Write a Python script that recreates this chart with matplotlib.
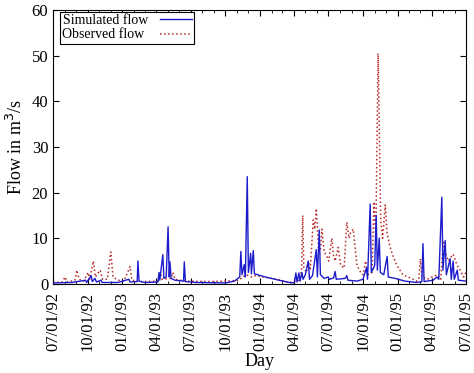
import numpy as np
import pandas as pd
import matplotlib
matplotlib.use('Agg')
import matplotlib.pyplot as plt
import matplotlib.dates as mdates

plt.rcParams['font.family'] = ['Liberation Serif', 'DejaVu Serif']

# simulated flow (m3/s)
sim_dates = ['1992-07-01', '1992-08-20', '1992-09-25', '1992-09-28', '1992-10-10', '1992-10-13',
             '1992-10-20', '1992-10-24', '1992-11-05', '1992-11-08', '1992-12-20', '1993-01-18',
             '1993-01-21', '1993-02-09', '1993-02-11', '1993-02-14', '1993-03-01', '1993-04-05',
             '1993-04-08', '1993-04-10', '1993-04-18', '1993-04-21', '1993-04-27', '1993-05-02',
             '1993-05-05', '1993-05-07', '1993-05-10', '1993-05-20', '1993-06-12', '1993-06-14',
             '1993-06-17', '1993-07-15', '1993-10-01', '1993-10-25', '1993-11-08', '1993-11-11',
             '1993-11-14', '1993-11-20', '1993-11-23', '1993-11-28', '1993-12-01', '1993-12-07',
             '1993-12-09', '1993-12-14', '1993-12-17', '1994-01-15', '1994-02-20', '1994-03-25',
             '1994-04-02', '1994-04-06', '1994-04-09', '1994-04-14', '1994-04-17', '1994-04-22',
             '1994-04-25', '1994-05-01', '1994-05-09', '1994-05-12', '1994-05-20', '1994-05-30',
             '1994-06-02', '1994-06-07', '1994-06-10', '1994-06-20', '1994-07-01', '1994-07-04',
             '1994-07-15', '1994-07-19', '1994-07-22', '1994-08-15', '1994-08-19', '1994-08-22',
             '1994-09-15', '1994-10-01', '1994-10-10', '1994-10-13', '1994-10-20', '1994-10-23',
             '1994-11-01', '1994-11-05', '1994-11-08', '1994-11-13', '1994-11-16', '1994-11-25',
             '1994-12-04', '1994-12-07', '1994-12-25', '1995-01-20', '1995-02-20', '1995-03-06',
             '1995-03-09', '1995-03-12', '1995-04-05', '1995-04-15', '1995-04-20', '1995-04-28',
             '1995-05-01', '1995-05-07', '1995-05-10', '1995-05-20', '1995-05-23', '1995-05-28',
             '1995-05-31', '1995-06-08', '1995-06-11', '1995-07-01']
sim_vals = [0.2, 0.3, 0.8, 0.3, 1.8, 0.5,
            1.2, 0.4, 0.8, 0.3, 0.3, 1.0,
            0.4, 0.5, 5.0, 0.6, 0.3, 0.4,
            2.5, 0.8, 6.4, 1.2, 1.5, 12.5,
            1.5, 4.8, 1.2, 0.8, 0.6, 4.8,
            0.5, 0.3, 0.2, 0.6, 1.5, 7.1,
            2.0, 4.2, 1.5, 23.5, 2.5, 6.7,
            2.2, 7.3, 2.2, 1.5, 0.8, 0.2,
            0.3, 2.4, 0.4, 2.4, 0.6, 2.5,
            1.0, 2.0, 5.0, 1.0, 1.8, 7.5,
            1.5, 11.8, 2.0, 1.2, 1.5, 1.0,
            1.3, 2.7, 1.0, 1.2, 1.8, 0.8,
            0.6, 1.0, 3.5, 1.0, 17.5, 2.5,
            4.0, 15.0, 3.0, 10.0, 2.5, 2.0,
            6.0, 1.5, 1.2, 0.6, 0.3, 0.5,
            8.8, 0.5, 0.8, 1.5, 1.0, 19.0,
            3.0, 9.5, 2.0, 5.5, 1.0, 5.0,
            1.0, 3.0, 0.8, 0.6]

# observed flow (m3/s)
obs_dates = ['1992-07-01', '1992-07-25', '1992-08-02', '1992-08-06', '1992-08-28', '1992-09-02',
             '1992-09-08', '1992-09-20', '1992-10-02', '1992-10-06', '1992-10-16', '1992-10-21',
             '1992-11-03', '1992-11-09', '1992-11-22', '1992-12-01', '1992-12-07', '1992-12-20',
             '1993-01-05', '1993-01-21', '1993-01-26', '1993-02-20', '1993-04-05', '1993-04-11',
             '1993-04-16', '1993-05-10', '1993-05-15', '1993-05-20', '1993-06-20', '1993-08-15',
             '1993-10-05', '1993-11-05', '1993-11-25', '1993-12-10', '1993-12-20', '1994-01-10',
             '1994-02-15', '1994-03-20', '1994-04-15', '1994-04-21', '1994-04-24', '1994-04-27',
             '1994-05-04', '1994-05-09', '1994-05-14', '1994-05-22', '1994-05-26', '1994-05-30',
             '1994-06-05', '1994-06-10', '1994-06-14', '1994-06-20', '1994-06-27', '1994-07-02',
             '1994-07-10', '1994-07-15', '1994-07-19', '1994-07-27', '1994-08-03', '1994-08-12',
             '1994-08-19', '1994-08-25', '1994-08-28', '1994-09-05', '1994-09-15', '1994-09-25',
             '1994-10-01', '1994-10-08', '1994-10-14', '1994-10-25', '1994-10-30', '1994-11-04',
             '1994-11-10', '1994-11-17', '1994-11-22', '1994-11-29', '1994-12-04', '1994-12-12',
             '1994-12-20', '1994-12-30', '1995-01-15', '1995-02-11', '1995-02-20', '1995-02-26',
             '1995-03-02', '1995-03-06', '1995-03-20', '1995-04-15', '1995-04-25', '1995-05-02',
             '1995-05-07', '1995-05-15', '1995-05-28', '1995-06-08', '1995-06-16', '1995-06-25',
             '1995-07-01']
obs_vals = [0.3, 0.4, 1.5, 0.4, 0.8, 3.0,
            1.0, 0.6, 2.5, 1.0, 5.0, 1.5,
            3.0, 1.0, 1.0, 7.0, 1.5, 0.8,
            0.6, 3.8, 0.8, 0.5, 0.6, 2.5,
            1.0, 1.2, 2.5, 1.0, 0.6, 0.5,
            0.6, 0.8, 2.0, 1.5, 1.8, 1.5,
            1.0, 0.3, 0.8, 3.0, 15.0, 3.5,
            2.5, 5.0, 3.0, 14.0, 12.0, 16.5,
            8.0, 7.5, 12.0, 7.0, 6.0, 5.0,
            10.0, 6.0, 5.0, 8.0, 4.0, 3.5,
            13.5, 10.0, 11.0, 12.0, 4.0, 2.5,
            2.0, 5.0, 2.0, 2.5, 18.0, 10.0,
            50.5, 14.0, 10.0, 17.3, 11.0, 8.0,
            6.0, 4.0, 2.0, 1.0, 0.6, 1.0,
            5.5, 1.5, 1.0, 2.0, 1.0, 9.5,
            7.0, 5.0, 6.5, 4.0, 3.0, 1.5,
            2.5]

sim_t = pd.to_datetime(sim_dates)
obs_t = pd.to_datetime(obs_dates)

fig = plt.figure(figsize=(4.74, 3.73), dpi=100)
ax = fig.add_axes([0.112, 0.239, 0.871, 0.734])

l_obs, = ax.plot(obs_t, obs_vals, color='#b82a2a', linestyle=':', linewidth=1.1, zorder=2)
l_sim, = ax.plot(sim_t, sim_vals, color='#1c1ccc', linestyle='-', linewidth=1.0, zorder=3)

ax.set_xlim(pd.Timestamp('1992-07-01'), pd.Timestamp('1995-07-01'))
ax.set_ylim(0, 60)
ax.set_yticks([0, 10, 20, 30, 40, 50, 60])

ax.xaxis.set_major_locator(mdates.MonthLocator(bymonth=[1, 4, 7, 10]))
ax.xaxis.set_major_formatter(mdates.DateFormatter('%m/%d/%y'))
ax.xaxis.set_minor_locator(mdates.MonthLocator())
ax.tick_params(axis='both', which='both', direction='in', top=True, right=True,
               labelsize=12, colors='black')
ax.tick_params(axis='both', which='major', length=4)
ax.tick_params(axis='both', which='minor', length=2)
ax.tick_params(axis='x', which='major', pad=6)
plt.setp(ax.get_xticklabels(), rotation=90)

ax.set_xlabel('Day', fontsize=13, labelpad=1)
ax.set_ylabel('Flow in m$^3$/s', fontsize=13, labelpad=4)

# trailing space so both labels start at the same x
leg = ax.legend([l_sim, l_obs], ['Simulated flow', 'Observed flow '], loc='upper left',
                bbox_to_anchor=(0.017, 0.993),
                markerfirst=False, fontsize=10, frameon=True, fancybox=False,
                edgecolor='black', framealpha=1, handlelength=2.3, handletextpad=0.9,
                borderpad=0.15, labelspacing=0.1, borderaxespad=0)
leg.get_frame().set_linewidth(0.8)

fig.savefig('out.png', dpi=100)
